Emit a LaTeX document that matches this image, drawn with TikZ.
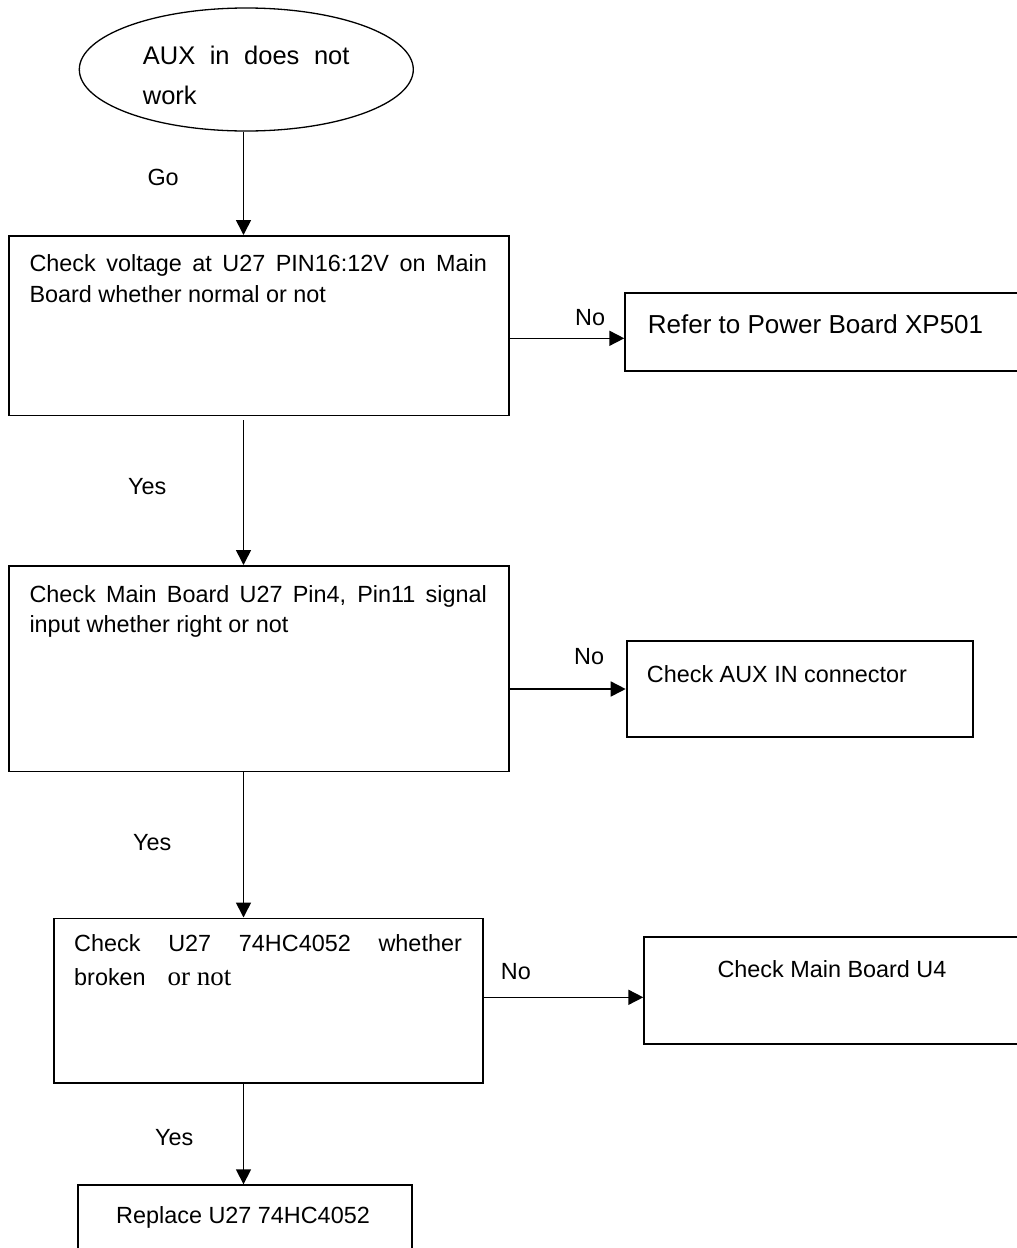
\documentclass[tikz,border=0pt]{standalone}
\usepackage{fontspec}
\setmainfont{Liberation Sans}
\newfontfamily\timesfont{Liberation Serif}
\usetikzlibrary{shapes.geometric,arrows.meta}
\tolerance=10000
\hyphenpenalty=10000
\exhyphenpenalty=10000
\begin{document}
\begin{tikzpicture}[x=1pt,y=-1pt,
  box/.style={draw,line width=1.8pt,rectangle,inner sep=0pt,anchor=north west},
  txt/.style={inner sep=0pt,anchor=base west,font=\fontsize{23.4}{31}\selectfont},
  para/.style={txt,align=justify,text width=#1},
  arr/.style={line width=1.6pt,-{Triangle[length=15pt,width=15pt]}}]
\clip (0,0) rectangle (1017,1248);
\fill[white] (0,0) rectangle (1017,1248);

% ellipse
\node[draw,ellipse,line width=1.3pt,minimum width=334pt,minimum height=123pt,inner sep=0pt] (e) at (246.3,69.5) {};
\node[txt,align=justify,text width=206.6pt,font=\fontsize{25.5}{40}\selectfont] (et) at (142.7,64) {AUX in does not\linebreak work};

% boxes
\node[box,minimum width=500pt,minimum height=179.5pt] (b1) at (8,235) {};
\node[box,minimum width=406pt,minimum height=78.3pt] (b2) at (624.3,291.7) {};
\node[box,minimum width=500pt,minimum height=205.5pt] (b3) at (8,565) {};
\node[box,minimum width=346pt,minimum height=96pt] (b4) at (625.7,640) {};
\node[box,minimum width=428.4pt,minimum height=164.2pt] (b5) at (53.3,917.5) {};
\node[box,minimum width=390pt,minimum height=107pt] (b6) at (643.3,936) {};
\node[box,minimum width=333.4pt,minimum height=90pt] (b7) at (77.3,1184.3) {};

% box texts
\node[para=457.4pt] (t1) at (29.3,271.7) {Check voltage at U27 PIN16:12V on Main\linebreak Board whether normal or not};
\node[txt,font=\fontsize{26}{31}\selectfont] (t2) at (647.7,333.3) {Refer to Power Board XP501};
\node[para=457.4pt,font=\fontsize{23.4}{30.7}\selectfont] (t3) at (29.3,602) {Check Main Board U27 Pin4, Pin11 signal\linebreak input whether right or not};
\node[txt] (t4) at (646.7,682) {Check AUX IN connector};
\node[para=387.7pt,font=\fontsize{23.4}{33.3}\selectfont] (t5) at (74,951.7) {Check U27 74HC4052 whether\linebreak broken\hspace{22pt}{\timesfont\fontsize{27}{33.3}\selectfont or not}};
\node[txt] (t6) at (717.3,977.3) {Check Main Board U4};
\node[txt] (t7) at (116,1223.8) {Replace U27 74HC4052};

% labels
\node[txt] (lgo) at (147.3,185) {Go};
\node[txt] (ly1) at (128,494) {Yes};
\node[txt] (ln1) at (575,325.7) {No};
\node[txt] (ln2) at (574,664) {No};
\node[txt] (ly2) at (133,850.7) {Yes};
\node[txt] (ln3) at (500.7,979.3) {No};
\node[txt] (ly3) at (155,1145) {Yes};

% connectors
\coordinate (ax) at (243.5,0);
\coordinate (a2) at (243.5,420);
\draw[arr] (e.south -| ax) -- (b1.north -| ax);
\draw[arr] (a2) -- (b3.north -| a2);
\draw[arr] (b3.south -| ax) -- (b5.north -| ax);
\draw[arr] (b5.south -| ax) -- (b7.north -| ax);
\coordinate (h1) at (0,338.3);
\coordinate (h2) at (0,689);
\coordinate (h3) at (0,997.3);
\draw[arr] (b1.east |- h1) -- (b2.west |- h1);
\draw[arr] (b3.east |- h2) -- (b4.west |- h2);
\draw[arr] (b5.east |- h3) -- (b6.west |- h3);
\end{tikzpicture}
\end{document}
